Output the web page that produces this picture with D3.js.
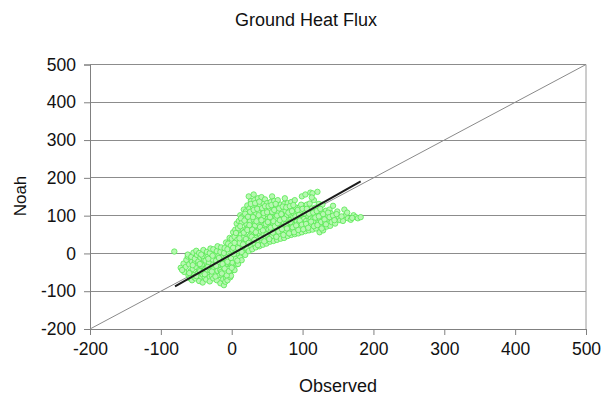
<!DOCTYPE html>
<html>
<head>
<meta charset="utf-8">
<script src="https://cdn.jsdelivr.net/npm/d3@7"></script>
<style>
  body { margin: 0; background: #fff; }
  svg { font-family: "Liberation Sans", Arial, sans-serif; }
</style>
</head>
<body>
<div id="chart"></div>
<script>
// --- datos ---
const TITLE = 'Ground Heat Flux';
const X_LABEL = 'Observed';
const Y_LABEL = 'Noah';
const AXIS_TICKS = [-200, -100, 0, 100, 200, 300, 400, 500];

const points = [
  [-81, 5],
  [-72, -38], [-68, -27], [-67, -49], [-64, -17], [-65, -36], [-62, -8], [-70, -44],
  [-61, -58], [-58, -47], [-60, -29], [-57, -13], [-62, -3], [-59, -66], [-56, -22],
  [-56, -71], [-53, -57], [-55, -41], [-52, -23], [-57, -9], [-54, 2], [-51, -33], [-53, -63],
  [-51, -66], [-48, -52], [-50, -36], [-47, -27], [-52, -14], [-49, -4], [-50, 7], [-46, -44],
  [-46, -73], [-43, -61], [-45, -47], [-42, -33], [-47, -21], [-44, -11], [-46, 1], [-41, -56],
  [-41, -77], [-38, -64], [-40, -49], [-37, -41], [-42, -29], [-39, -17], [-41, -7], [-40, 9], [-36, -24],
  [-36, -69], [-33, -53], [-35, -43], [-32, -31], [-37, -19], [-34, -9], [-35, 4], [-31, -62],
  [-31, -74], [-28, -59], [-30, -46], [-27, -36], [-32, -24], [-29, -13], [-31, 1], [-30, 13], [-26, -28],
  [-26, -66], [-23, -51], [-25, -41], [-22, -27], [-27, -16], [-24, -4], [-26, 11], [-21, -38],
  [-21, -71], [-18, -57], [-20, -46], [-17, -29], [-22, -19], [-19, -7], [-21, 6], [-20, 19], [-16, -44],
  [-16, -79], [-13, -61], [-15, -49], [-12, -34], [-17, -23], [-14, -11], [-16, 4], [-15, 16], [-12, -68],
  [-11, -84], [-8, -64], [-10, -51], [-7, -37], [-12, -26], [-9, -13], [-11, 1], [-10, 14], [-8, 29], [-9, -75],
  [-6, -71], [-3, -54], [-5, -41], [-2, -27], [-7, -16], [-4, 1], [-6, 11], [-5, 26], [-3, 41], [-2, -63],
  [-1, -59], [2, -44], [0, -31], [3, -17], [-2, -6], [1, 9], [-1, 21], [0, 39], [2, 56], [1, -24],
  [4, -44], [7, -29], [5, -14], [8, 1], [3, 16], [6, 31], [4, 44], [5, 63], [7, 79], [6, 9],
  [9, -28], [12, -11], [10, 6], [13, 21], [8, 36], [11, 51], [9, 67], [10, 86], [12, 101], [11, 28],
  [14, -18], [17, 1], [15, 16], [18, 31], [13, 49], [16, 61], [14, 81], [15, 97], [17, 116], [16, 42],
  [19, -4], [22, 13], [20, 27], [23, 43], [18, 57], [21, 76], [19, 91], [20, 111], [22, 127], [21, 66],
  [24, 6], [27, 21], [25, 37], [28, 53], [23, 67], [26, 86], [24, 99], [25, 119], [27, 139], [24, 151], [26, 47],
  [29, 11], [32, 26], [30, 41], [33, 59], [28, 71], [31, 89], [29, 104], [30, 123], [32, 141], [31, 156], [33, 79],
  [34, 16], [37, 31], [35, 44], [38, 61], [33, 74], [36, 93], [34, 107], [35, 126], [37, 146], [36, 53], [38, 115],
  [39, 19], [42, 36], [40, 49], [43, 66], [38, 81], [41, 96], [39, 111], [40, 129], [42, 149], [41, 58],
  [44, 23], [47, 39], [45, 51], [48, 69], [43, 83], [46, 99], [44, 113], [45, 131], [47, 143], [46, 76],
  [49, 26], [52, 41], [50, 56], [53, 71], [48, 86], [51, 101], [49, 116], [50, 133], [52, 63], [51, 92],
  [54, 31], [57, 46], [55, 59], [58, 73], [53, 89], [56, 103], [54, 119], [55, 136], [57, 151], [58, 81],
  [59, 33], [62, 49], [60, 63], [63, 76], [58, 91], [61, 106], [59, 121], [60, 139], [62, 97],
  [64, 36], [67, 51], [65, 66], [68, 81], [63, 93], [66, 109], [64, 126], [65, 141], [67, 71],
  [69, 39], [72, 56], [70, 69], [73, 83], [68, 96], [71, 111], [69, 129], [72, 101],
  [74, 41], [77, 59], [75, 71], [78, 86], [73, 99], [76, 113], [74, 131], [75, 146], [77, 91],
  [79, 46], [82, 61], [80, 73], [83, 89], [78, 101], [81, 116], [79, 133], [82, 79],
  [84, 49], [87, 63], [85, 76], [88, 91], [83, 103], [86, 119], [84, 136], [87, 97],
  [89, 51], [92, 66], [90, 79], [93, 93], [88, 106], [91, 121], [89, 141], [92, 84],
  [94, 53], [97, 69], [95, 81], [98, 96], [93, 109], [96, 123], [97, 88],
  [99, 56], [102, 71], [100, 83], [103, 97], [98, 111], [101, 126], [99, 151], [102, 91],
  [104, 59], [107, 73], [105, 86], [108, 99], [103, 113], [106, 129], [104, 156], [107, 79],
  [109, 61], [112, 76], [110, 89], [113, 101], [108, 116], [111, 161], [112, 93],
  [114, 63], [117, 79], [115, 91], [118, 103], [113, 119], [116, 141], [114, 159], [117, 86],
  [119, 66], [122, 81], [120, 93], [123, 106], [118, 121], [121, 163], [122, 99],
  [124, 56], [127, 76], [125, 91], [128, 109], [123, 131], [126, 83],
  [129, 61], [132, 83], [130, 96], [133, 113], [128, 129], [131, 71],
  [134, 71], [137, 89], [135, 101], [138, 116], [136, 79],
  [139, 73], [142, 91], [140, 106], [143, 126], [141, 83],
  [146, 79], [151, 96], [149, 111], [153, 88],
  [157, 86], [161, 101], [159, 116], [164, 93],
  [168, 89], [172, 101], [175, 96],
  [178, 93], [182, 96]
];

// puntos de relleno entre los anteriores (zonas densas de la nube)
const pointsFill = [
  [-60, -52], [-55, -31], [-50, -60], [-45, -28], [-43, -3], [-38, -55], [-34, -36], [-33, -14],
  [-28, -48], [-27, -6], [-23, -61], [-22, -33], [-18, -12], [-14, -53], [-13, -28], [-10, -40],
  [-7, -58], [-6, -22], [-4, -47], [-1, -12], [0, -38], [2, 15], [3, -2], [4, 28], [6, 54],
  [8, -19], [9, 14], [11, 40], [12, 72], [13, 93], [14, 4], [16, 24], [17, 55], [18, 87],
  [19, 105], [20, 38], [22, 62], [23, 97], [24, 28], [25, 75], [26, 110], [27, 131], [28, 44],
  [29, 63], [30, 96], [31, 115], [32, 36], [33, 133], [34, 56], [35, 85], [36, 118], [37, 22],
  [38, 101], [39, 137], [40, 70], [41, 42], [42, 88], [43, 120], [44, 61], [45, 107], [46, 32],
  [47, 125], [48, 78], [49, 50], [50, 109], [51, 83], [52, 125], [53, 38], [54, 96], [55, 68],
  [56, 128], [57, 110], [58, 55], [59, 85], [60, 115], [61, 72], [62, 131], [63, 44], [64, 100],
  [65, 80], [66, 58], [67, 119], [68, 88], [70, 104], [71, 64], [72, 124], [73, 49], [74, 92],
  [76, 77], [77, 122], [78, 66], [80, 108], [81, 53], [82, 125], [83, 83], [85, 112], [86, 69],
  [87, 128], [88, 56], [90, 98], [91, 74], [93, 115], [94, 62], [95, 102], [96, 87], [98, 129],
  [99, 76], [100, 118], [101, 64], [103, 106], [105, 78], [106, 118], [108, 68], [109, 105],
  [110, 132], [112, 84], [113, 148], [115, 108], [116, 72], [118, 95], [120, 112], [121, 75],
  [123, 98], [125, 118], [127, 66], [129, 104], [131, 90], [133, 77], [136, 108], [138, 96],
  [143, 100], [145, 88], [148, 104], [155, 98], [163, 108], [170, 94]
];

// recta de regresión (extremos)
const fitX = [-80, 182];
const fitY = [-87, 191];

// línea 1:1
const oneToOne = [-200, 500];

// --- dimensiones ---
const W = 610, H = 400;
const margin = {top: 64.5, right: 24, bottom: 71, left: 90};
const width = W - margin.left - margin.right;
const height = H - margin.top - margin.bottom;

const svg = d3.select('#chart').append('svg')
  .attr('width', W)
  .attr('height', H);

const g = svg.append('g')
  .attr('transform', `translate(${margin.left},${margin.top})`);

const x = d3.scaleLinear().domain([-200, 500]).range([0, width]);
const y = d3.scaleLinear().domain([-200, 500]).range([height, 0]);

// grid horizontal
g.selectAll('.grid')
  .data(AXIS_TICKS.slice(1))
  .join('line')
    .attr('x1', 0).attr('x2', width)
    .attr('y1', d => Math.round(y(d)))
    .attr('y2', d => Math.round(y(d)))
    .attr('stroke', '#8c8c8c')
    .attr('stroke-width', 1);

// borde derecho
g.append('line')
  .attr('x1', width).attr('x2', width)
  .attr('y1', y(500)).attr('y2', height)
  .attr('stroke', '#9a9a9a');

// ejes
const fmt = d => String(d);   // guion normal, como en el original
const yAxis = g.append('g')
  .call(d3.axisLeft(y).tickValues(AXIS_TICKS).tickSize(6).tickPadding(8).tickFormat(fmt));

const xAxis = g.append('g')
  .attr('transform', `translate(0,${height})`)
  .call(d3.axisBottom(x).tickValues(AXIS_TICKS).tickSize(6).tickPadding(8).tickFormat(fmt));

[xAxis, yAxis].forEach(a => {
  a.select('.domain').attr('stroke', '#808080');
  a.selectAll('.tick line').attr('stroke', '#808080');
  a.selectAll('text')
    .attr('fill', '#111')
    .style('font-size', '17.5px')
    .style('font-family', '"Liberation Sans", Arial, sans-serif');
});

// línea 1:1
g.append('line')
  .attr('x1', x(oneToOne[0])).attr('y1', y(oneToOne[0]))
  .attr('x2', x(oneToOne[1])).attr('y2', y(oneToOne[1]))
  .attr('stroke', '#8a8a8a')
  .attr('stroke-width', 1);

// puntos
g.selectAll('.pt')
  .data(points.concat(pointsFill))
  .join('circle')
    .attr('class', 'pt')
    .attr('cx', d => x(d[0]))
    .attr('cy', d => y(d[1]))
    .attr('r', 2.7)
    .attr('fill', '#b8f7b2')
    .attr('stroke', '#55ea50')
    .attr('stroke-width', 0.8);

// regresión
g.append('line')
  .attr('x1', x(fitX[0])).attr('y1', y(fitY[0]))
  .attr('x2', x(fitX[1])).attr('y2', y(fitY[1]))
  .attr('stroke', '#1a1a1a')
  .attr('stroke-width', 2);

// textos
svg.append('text')
  .attr('x', 306).attr('y', 26)
  .attr('text-anchor', 'middle')
  .style('font-size', '18px')
  .attr('fill', '#111')
  .text(TITLE);

svg.append('text')
  .attr('x', 338).attr('y', 392)
  .attr('text-anchor', 'middle')
  .style('font-size', '18px')
  .attr('fill', '#111')
  .text(X_LABEL);

svg.append('text')
  .attr('transform', 'translate(26,196) rotate(-90)')
  .attr('text-anchor', 'middle')
  .style('font-size', '17px')
  .attr('fill', '#111')
  .text(Y_LABEL);
</script>
</body>
</html>
